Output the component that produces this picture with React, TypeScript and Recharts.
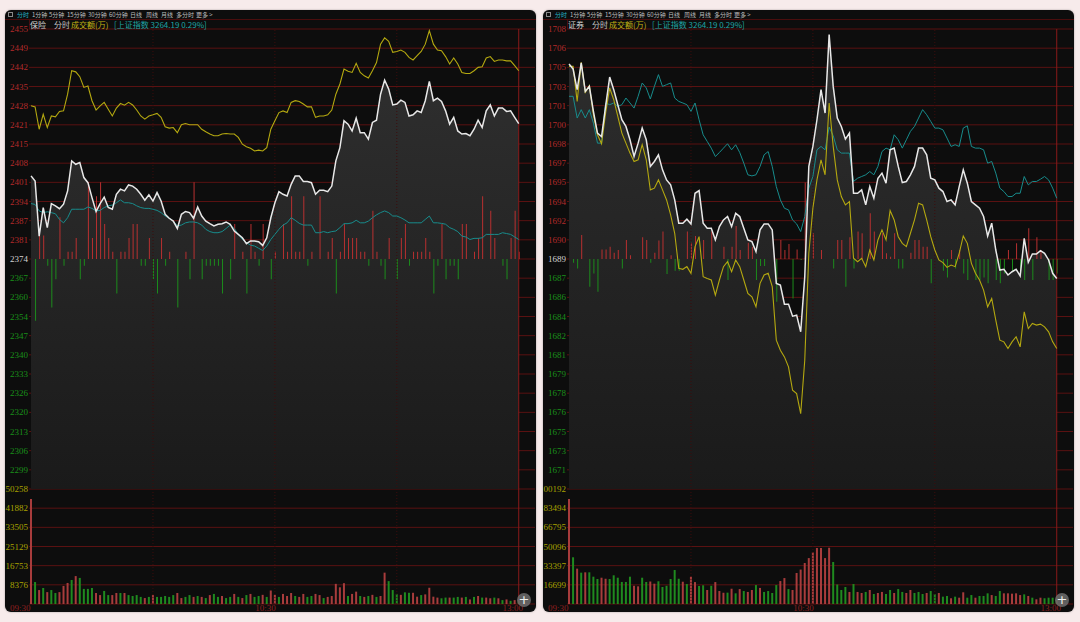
import React from 'react';
import { ComposedChart, Area, Line, Bar, Cell, XAxis, YAxis, CartesianGrid, ReferenceLine } from 'recharts';

// ---------- shared categories ----------
const minutes = Array.from({ length: 121 }, (_, i) => i); // minute index from 09:30
const timeLabels: Record<number, string> = { 0: '09:30', 60: '10:30', 120: '13:00' };
const tabLabels = ['分时', '1分钟', '5分钟', '15分钟', '30分钟', '60分钟', '日线', '周线', '月线', '多分时', '更多 >'];
const indexText = '[上证指数 3264.19 0.29%]';

// ---------- left panel : 保险 ----------
const leftName = '保险';
const leftBase = 2374.4;
const leftStep = 6.78;
const leftPriceTicks = ['2455', '2449', '2442', '2435', '2428', '2421', '2415', '2408', '2401', '2394', '2387', '2381', '2374', '2367', '2360', '2354', '2347', '2340', '2333', '2326', '2320', '2313', '2306', '2299'];
const leftVolTicks = ['50258', '41882', '33505', '25129', '16753', '8376'];
const leftPrice = [
  2403.8, 2402.0, 2382.5, 2392.6, 2385.5, 2394.0, 2393.2, 2392.2, 2393.8, 2398.5,
  2409.1, 2407.9, 2408.5, 2403.2, 2401.4, 2396.1, 2391.2, 2394.0, 2396.3, 2392.6,
  2392.0, 2397.3, 2399.1, 2398.5, 2400.6, 2400.2, 2399.1, 2397.3, 2395.2, 2397.1,
  2394.9, 2397.9, 2394.9, 2390.2, 2388.8, 2387.8, 2385.2, 2390.2, 2391.2, 2390.8,
  2388.8, 2392.8, 2389.6, 2387.8, 2386.9, 2386.1, 2386.7, 2386.9, 2387.5, 2386.7,
  2384.3, 2383.1, 2381.9, 2379.8, 2380.8, 2380.8, 2380.5, 2379.2, 2381.9, 2389.0,
  2394.3, 2398.2, 2397.3, 2396.7, 2400.8, 2403.8, 2403.8, 2401.8, 2401.8, 2401.4,
  2397.3, 2398.7, 2398.7, 2398.2, 2400.2, 2409.1, 2413.8, 2423.3, 2422.1, 2419.7,
  2424.2, 2419.1, 2419.1, 2416.8, 2422.7, 2423.5, 2432.7, 2437.7, 2434.5, 2428.9,
  2429.2, 2430.6, 2429.8, 2425.0, 2425.4, 2426.8, 2426.2, 2430.4, 2437.2, 2430.4,
  2431.3, 2430.1, 2426.8, 2422.1, 2424.5, 2419.7, 2418.6, 2418.8, 2418.0, 2420.3,
  2423.5, 2420.9, 2426.8, 2428.9, 2425.0, 2427.8, 2427.8, 2426.6, 2426.8, 2424.5,
  2422.3];
const leftIndex = [
  2428.6, 2428.2, 2420.3, 2425.6, 2420.9, 2425.0, 2424.7, 2426.6, 2426.8, 2432.7,
  2441.0, 2440.6, 2438.9, 2435.1, 2435.6, 2430.4, 2427.1, 2428.6, 2429.8, 2427.4,
  2425.0, 2427.8, 2429.4, 2428.8, 2429.8, 2428.9, 2427.1, 2425.0, 2423.9, 2425.0,
  2425.4, 2425.9, 2424.5, 2421.2, 2420.7, 2420.9, 2419.1, 2421.9, 2422.3, 2421.9,
  2421.9, 2421.9, 2420.3, 2419.4, 2418.6, 2418.0, 2418.0, 2418.6, 2418.8, 2418.6,
  2418.6, 2417.4, 2415.0, 2414.1, 2413.6, 2412.6, 2412.9, 2412.6, 2413.8, 2420.3,
  2423.3, 2426.2, 2426.8, 2426.2, 2429.8, 2430.4, 2430.1, 2429.2, 2428.2, 2428.2,
  2424.5, 2425.0, 2425.0, 2425.4, 2427.1, 2432.7, 2436.3, 2441.6, 2440.8, 2440.4,
  2443.6, 2440.4, 2439.2, 2438.4, 2441.0, 2443.9, 2450.4, 2452.6, 2451.4, 2447.5,
  2447.8, 2448.3, 2447.5, 2445.7, 2444.8, 2446.3, 2447.8, 2450.4, 2455.2, 2450.4,
  2448.3, 2448.1, 2446.0, 2443.4, 2445.5, 2443.4, 2440.4, 2440.0, 2440.0, 2441.0,
  2442.2, 2442.4, 2445.5, 2446.0, 2444.3, 2444.8, 2444.8, 2444.5, 2444.5, 2442.8,
  2441.0];
const leftAvg = [
  2394.0, 2393.7, 2391.4, 2390.8, 2391.1, 2390.8, 2390.4, 2388.4, 2387.2, 2389.0,
  2392.0, 2392.0, 2392.0, 2392.0, 2392.8, 2392.3, 2391.4, 2391.6, 2392.6, 2393.2,
  2393.5, 2394.3, 2395.3, 2394.3, 2394.3, 2394.0, 2393.2, 2392.6, 2392.3, 2392.3,
  2392.0, 2391.6, 2390.8, 2389.6, 2388.8, 2387.8, 2386.1, 2386.4, 2387.2, 2387.5,
  2387.5, 2387.2, 2386.4, 2384.9, 2384.1, 2383.7, 2383.7, 2384.1, 2385.2, 2386.4,
  2385.2, 2383.1, 2381.3, 2380.2, 2379.3, 2379.0, 2378.2, 2377.4, 2379.0, 2381.3,
  2383.1, 2384.9, 2386.4, 2387.2, 2389.0, 2388.1, 2387.0, 2386.4, 2386.4, 2386.4,
  2383.7, 2383.7, 2384.1, 2383.7, 2384.1, 2384.3, 2385.5, 2386.9, 2386.9, 2387.2,
  2388.1, 2387.2, 2387.2, 2387.8, 2389.0, 2390.0, 2390.8, 2391.4, 2390.8, 2389.6,
  2389.6, 2389.0, 2388.2, 2387.2, 2387.2, 2387.2, 2387.2, 2388.4, 2389.6, 2387.2,
  2387.2, 2387.0, 2386.7, 2385.5, 2384.9, 2384.1, 2382.5, 2382.2, 2381.3, 2381.7,
  2381.7, 2381.9, 2383.1, 2383.1, 2383.1, 2383.1, 2383.7, 2383.4, 2383.1, 2382.2,
  2381.3];
const leftDiff = [
  0, -322, 123, 123, -35, -253, -105, 218, -35, 38,
  38, 110, -105, -35, 400, 110, 328, 400, 183, 110,
  38, -180, 38, 38, 110, 183, 183, -35, -35, 110,
  -105, -180, 110, -35, 38, 0, -253, 0, 38, -105,
  400, 0, -105, -35, -35, -35, -35, -180, 0, -105,
  183, 0, 38, -180, 183, 38, -35, 183, 0, -105,
  38, 0, 183, 38, 328, 38, 38, 328, -35, 38,
  0, 328, 0, 38, 110, -180, 38, 183, 110, 110,
  110, 38, 38, -35, 252, 38, -35, -105, 110, 0,
  -105, 110, 183, -35, 38, 38, 38, 110, 38, -180,
  -35, 183, -105, -35, -35, -105, 183, 183, 0, 38,
  110, 328, 0, 252, 110, 0, -35, -105, 110, 252,
  38];
const leftVol = [
  45900, 9600, 6100, 7000, 5200, 6100, 4800, 5200, 7900, 9200,
  10500, 12200, 11400, 6600, 6600, 7000, 4800, 3900, 5700, 3900,
  3900, 4800, 4800, 4800, 3900, 3500, 3900, 3100, 2600, 3100,
  3900, 3100, 3100, 3500, 3100, 3900, 4800, 2600, 3100, 3900,
  3100, 3500, 3100, 2600, 3900, 4400, 3100, 3500, 2600, 3100,
  4400, 3100, 2600, 3900, 4400, 3100, 3500, 4000, 3100, 5900,
  4000, 3100, 4400, 3500, 4800, 3500, 3100, 4400, 3100, 3500,
  4400, 3900, 2600, 3100, 3500, 8800, 7300, 9100, 3500, 4400,
  5400, 3500, 3100, 3500, 4000, 3100, 3500, 13700, 10000, 6100,
  4400, 4000, 5100, 4900, 4900, 3200, 3900, 4200, 7100, 3200,
  2800, 2500, 2800, 2800, 2800, 3100, 2800, 3100, 2000, 3100,
  3500, 2800, 2800, 2500, 2800, 2500, 1700, 2000, 1400, 1700,
  1500];
const leftVolUp = 'rgrgrggrrr' + 'grggggrrgg' + 'rrgrggggrg' + 'rgggggrrgg' + 'rgrgrggrgg' + 'rgrgrggrgr' +
  'rgrrrgrrgg' + 'rrgrrrrrgr' + 'rgrgrgrrgg' + 'grggrrgrrr' + 'rggrggrgrg' + 'rgrrgrgrgr' + 'g';

// ---------- right panel : 证券 ----------
const rightName = '证券';
const rightBase = 1689.3;
const rightStep = 1.58;
const rightPriceTicks = ['1708', '1706', '1705', '1703', '1701', '1700', '1698', '1697', '1695', '1694', '1692', '1690', '1689', '1687', '1686', '1684', '1682', '1681', '1679', '1678', '1676', '1675', '1673', '1671'];
const rightVolTicks = ['100192', '83494', '66795', '50096', '33397', '16699'];
const rightPrice = [
  1705.38, 1704.96, 1703.26, 1705.46, 1703.12, 1703.53, 1701.47, 1699.68, 1699.40, 1701.88,
  1704.30, 1703.26, 1702.02, 1700.78, 1700.23, 1699.13, 1697.75, 1698.85, 1700.09, 1699.13,
  1696.93, 1697.34, 1697.89, 1696.65, 1695.82, 1695.41, 1694.17, 1692.25, 1692.25, 1692.58,
  1692.19, 1694.72, 1694.94, 1692.25, 1691.83, 1691.83, 1690.87, 1691.97, 1692.52, 1692.80,
  1691.97, 1693.07, 1692.80, 1691.83, 1690.87, 1690.73, 1689.91, 1691.70, 1692.19, 1692.19,
  1691.70, 1687.29, 1687.15, 1685.58, 1685.58, 1684.59, 1684.67, 1683.30, 1687.84, 1696.93,
  1698.58, 1700.78, 1703.26, 1701.33, 1707.80, 1703.53, 1700.92, 1700.23, 1699.18, 1699.68,
  1694.72, 1694.72, 1695.00, 1693.76, 1695.27, 1694.31, 1695.96, 1696.38, 1695.55, 1698.30,
  1698.44, 1696.93, 1695.60, 1695.69, 1696.24, 1696.93, 1698.44, 1698.44, 1697.89, 1695.96,
  1695.82, 1695.14, 1694.86, 1694.04, 1694.17, 1693.76, 1695.27, 1696.65, 1695.55, 1694.04,
  1693.76, 1693.48, 1692.80, 1691.20, 1692.25, 1690.04, 1688.39, 1688.45, 1687.98, 1688.25,
  1688.45, 1687.90, 1691.01, 1689.02, 1689.71, 1689.71, 1689.99, 1689.77, 1689.22, 1688.12,
  1687.70];
const rightIndex = [
  1705.18, 1705.18, 1702.29, 1705.52, 1703.04, 1703.59, 1701.19, 1699.54, 1698.80, 1701.33,
  1703.40, 1702.43, 1701.06, 1699.68, 1698.85, 1698.03, 1697.34, 1697.48, 1698.72, 1697.48,
  1695.00, 1695.14, 1695.82, 1695.00, 1694.17, 1692.93, 1691.42, 1688.53, 1688.45, 1688.67,
  1688.12, 1690.32, 1691.14, 1687.84, 1687.70, 1687.57, 1686.33, 1687.57, 1688.67, 1689.08,
  1688.25, 1689.22, 1688.67, 1687.57, 1686.46, 1686.19, 1685.36, 1687.29, 1687.98, 1688.12,
  1687.02, 1682.61, 1681.78, 1681.23, 1680.41, 1678.48, 1678.21, 1676.55, 1680.96, 1689.77,
  1693.48, 1695.82, 1697.48, 1696.24, 1702.16, 1698.58, 1695.82, 1694.45, 1693.76, 1694.04,
  1689.36, 1689.08, 1689.36, 1688.67, 1690.04, 1689.22, 1690.87, 1691.70, 1690.87, 1693.29,
  1692.52, 1691.14, 1690.59, 1690.32, 1691.42, 1692.52, 1693.90, 1693.76, 1692.52, 1691.14,
  1690.04, 1689.22, 1689.00, 1688.61, 1688.80, 1688.67, 1689.77, 1691.20, 1690.59, 1688.94,
  1688.12, 1687.57, 1686.74, 1685.36, 1686.05, 1684.26, 1682.61, 1682.47, 1681.92, 1682.47,
  1682.89, 1682.06, 1684.95, 1683.57, 1683.99, 1683.85, 1683.93, 1683.71, 1683.30, 1682.47,
  1681.92];
const rightAvg = [
  1702.71, 1702.71, 1700.92, 1701.61, 1700.92, 1701.61, 1700.50, 1698.85, 1698.85, 1702.16,
  1702.02, 1702.16, 1701.88, 1702.02, 1702.57, 1702.16, 1701.74, 1702.71, 1703.81, 1703.40,
  1702.49, 1703.53, 1704.50, 1703.53, 1703.67, 1703.81, 1702.57, 1702.29, 1702.16, 1702.02,
  1701.47, 1702.16, 1700.78, 1699.54, 1698.99, 1698.44, 1697.75, 1698.08, 1698.44, 1698.80,
  1698.30, 1698.72, 1698.08, 1697.20, 1696.24, 1696.15, 1696.24, 1696.93, 1697.89, 1698.16,
  1696.93, 1695.27, 1694.17, 1693.48, 1693.35, 1692.52, 1692.19, 1691.56, 1692.80, 1695.14,
  1696.10, 1698.30, 1698.58, 1698.30, 1700.17, 1699.46, 1698.30, 1698.03, 1698.03, 1698.03,
  1695.69, 1695.96, 1696.10, 1696.24, 1696.51, 1696.24, 1696.93, 1698.16, 1698.44, 1698.30,
  1699.54, 1699.13, 1698.44, 1699.13, 1699.82, 1700.23, 1700.92, 1701.61, 1701.19, 1700.64,
  1700.09, 1700.09, 1699.95, 1699.27, 1698.58, 1698.72, 1698.58, 1700.09, 1700.28, 1698.58,
  1698.44, 1698.44, 1698.30, 1697.20, 1697.34, 1696.38, 1695.14, 1694.86, 1694.45, 1694.45,
  1694.72, 1694.72, 1696.10, 1695.41, 1695.69, 1695.69, 1695.88, 1696.10, 1695.82, 1695.14,
  1694.31];
const rightDiff = [
  0, -19, -49, 125, 0, -145, -75, -171, 50, 50,
  64, 33, 47, -49, 99, 19, 0, 0, 113, 99,
  -19, 33, 96, 143, -78, 19, -61, -61, 0, 143,
  85, 120, 0, 99, 0, 143, 0, 0, 64, -110,
  64, 172, 47, 0, 85, 64, -110, -37, -37, 0,
  0, -223, 99, 47, 78, -206, 50, -5, 399, 0,
  134, 0, 47, 0, 0, -49, 99, 99, -145, 113,
  -49, 143, 134, 0, 239, 143, 0, 134, 30, 12,
  134, -49, -49, 0, 33, 99, 99, 64, 64, -127,
  0, 0, -61, -96, 47, -49, 47, -75, -110, 0,
  -110, -110, -96, -127, 0, -110, -127, -75, 47, -61,
  82, -75, -110, 160, -110, 113, 47, 0, -110, -110,
  -75];
const rightVol = [
  91500, 40700, 30800, 27300, 27600, 27600, 23800, 21800, 22900, 22000,
  21800, 25000, 22900, 19200, 19200, 23800, 15900, 15400, 22900, 19200,
  19600, 17700, 19800, 14800, 15900, 21800, 29600, 22000, 19400, 17400,
  23800, 19100, 15700, 16300, 12200, 15900, 19100, 11300, 9800, 9900,
  13300, 9300, 13000, 11300, 10500, 12200, 16500, 14000, 10500, 11300,
  9600, 16500, 20000, 22600, 13000, 12200, 27000, 30000, 35700, 40000,
  45000, 48800, 48800, 40000, 49000, 36600, 17000, 12200, 14800, 10500,
  17400, 10500, 9600, 10500, 12200, 8700, 9600, 10500, 8700, 12200,
  9600, 13000, 10500, 9600, 12200, 9600, 10500, 8700, 9600, 11300,
  8700, 9600, 6400, 7000, 5000, 6400, 5500, 10200, 5500, 7800,
  5500, 7000, 7000, 9300, 7800, 7000, 11300, 9300, 9300, 9000,
  9300, 7800, 8400, 7000, 5500, 4100, 5500, 5000, 5500, 5500,
  5000];
const rightVolUp = 'rgrgrgggrr' + 'ggggggrrgg' + 'rrggggggrg' + 'rrggrgrrrg' + 'rgrgrrgrgg' + 'ggrrgrrrrr' +
  'rrrrrggggr' + 'grrgrgrrgg' + 'rggrrgggrg' + 'grggrgrrgg' + 'rgggrggrrr' + 'rrgrgrrggg' + 'g';

// ---------- styling ----------
const C = {
  page: '#f7ebeb',
  card: '#0d0d0d',
  grid: '#5a1111',
  vgrid: '#3d0d0d',
  closeLine: '#8a1a1a',
  red: '#b83030',
  green: '#1c8c1c',
  volRed: '#a83c3c',
  volGreen: '#1f8a1f',
  white: '#e8e8e8',
  yellow: '#b4a810',
  cyan: '#188c8c',
  lblRed: '#b42a2a',
  lblGreen: '#1a8f1a',
  lblMid: '#d2d2d2',
  lblVol: '#a9a200',
  time: '#8e1f1f',
};

const TOP_PAD = 6;
const PLOT_H = 575;
const X_AXIS_H = 8;
const CHART_W = 530;
const CHART_H = TOP_PAD + PLOT_H + X_AXIS_H;
const AXIS_W = 24;

type PanelCfg = {
  id: string;
  name: string;
  base: number;
  step: number;
  priceTicks: string[];
  volTicks: string[];
  price: number[];
  index: number[];
  avg: number[];
  diff: number[];
  vol: number[];
  volUp: string;
};

const panels: PanelCfg[] = [
  { id: 'L', name: leftName, base: leftBase, step: leftStep, priceTicks: leftPriceTicks, volTicks: leftVolTicks, price: leftPrice, index: leftIndex, avg: leftAvg, diff: leftDiff, vol: leftVol, volUp: leftVolUp },
  { id: 'R', name: rightName, base: rightBase, step: rightStep, priceTicks: rightPriceTicks, volTicks: rightVolTicks, price: rightPrice, index: rightIndex, avg: rightAvg, diff: rightDiff, vol: rightVol, volUp: rightVolUp },
];

function Panel({ cfg, left }: { cfg: PanelCfg; left: number }) {
  const rows = minutes.map((m, i) => ({
    m,
    price: cfg.price[i],
    idx: cfg.index[i],
    avg: cfg.avg[i],
    diff: cfg.diff[i],
    vol: cfg.vol[i],
  }));
  const lo = cfg.base - 18 * cfg.step;
  const hi = cfg.base + 12 * cfg.step;
  const ticks = Array.from({ length: 31 }, (_, i) => cfg.base + (i - 18) * cfg.step);
  const priceBottom = cfg.base - 12 * cfg.step;
  const volTop = Number(cfg.volTicks[0]) * 5;

  const renderYTick = (p: any) => {
    const k = Math.round((p.payload.value - cfg.base) / cfg.step);
    let label = '';
    let color = C.lblMid;
    if (k >= -11) {
      label = cfg.priceTicks[12 - k];
      color = k > 0 ? C.lblRed : k < 0 ? C.lblGreen : C.lblMid;
    } else if (k <= -12 && k >= -17) {
      label = cfg.volTicks[-12 - k];
      color = C.lblVol;
    }
    if (!label) return <g />;
    return (
      <text x={AXIS_W - 1} y={p.y} dy={3} textAnchor="end" fill={color} fontSize={9} fontFamily="Liberation Serif">
        {label}
      </text>
    );
  };

  const renderXTick = (p: any) => {
    const v = p.payload.value;
    const label = timeLabels[v];
    if (!label) return <g />;
    const anchor = v === 0 ? 'start' : v === 60 ? 'end' : 'middle';
    const dx = v === 0 ? -21 : v === 60 ? 1 : -6;
    return (
      <text x={p.x + dx} y={TOP_PAD + PLOT_H} dy={7} textAnchor={anchor} fill={C.time} fontSize={9} fontFamily="Liberation Serif">
        {label}
      </text>
    );
  };

  const gid = 'fill' + cfg.id;

  return (
    <div
      style={{
        position: 'absolute',
        left,
        top: 10,
        width: 531,
        height: 602,
        background: C.card,
        borderRadius: 6,
        overflow: 'hidden',
        boxShadow: '0 0 2px rgba(0,0,0,0.35)',
      }}
    >
      {/* tab row */}
      <div style={{ position: 'absolute', left: 3, top: 2, width: 5, height: 5, border: '1px solid #888', boxSizing: 'border-box' }} />
      {tabLabels.map((t, i) => (
        <div
          key={t}
          style={{
            position: 'absolute',
            left: [12, 27, 44, 62, 83, 104, 125, 141, 156, 171, 191][i],
            top: 0,
            fontSize: 6,
            lineHeight: '9px',
            color: i === 0 ? '#22b4c4' : '#bdbdbd',
            fontFamily: '"Noto Sans CJK SC", sans-serif',
            whiteSpace: 'nowrap',
          }}
        >
          {t}
        </div>
      ))}
      <div style={{ position: 'absolute', left: 0, top: 9, width: '100%', height: 1, background: '#4a0d0d' }} />
      <div style={{ position: 'absolute', left: AXIS_W, top: 9, width: 1, height: 10, background: '#4a0d0d' }} />

      {/* chart */}
      <div style={{ position: 'absolute', left: 0, top: 19 - TOP_PAD }}>
        <ComposedChart width={CHART_W} height={CHART_H} data={rows} margin={{ top: TOP_PAD, right: 0, bottom: 0, left: 0 }}>
          <defs>
            <linearGradient id={gid} x1="0" y1="0" x2="0" y2="1">
              <stop offset="0%" stopColor="#2e2e2e" />
              <stop offset="100%" stopColor="#1a1a1a" />
            </linearGradient>
          </defs>
          <XAxis
            xAxisId="x"
            dataKey="m"
            type="number"
            domain={[-0.5, 124]}
            ticks={[0, 60, 120]}
            interval={0}
            height={X_AXIS_H}
            axisLine={false}
            tickLine={false}
            tickSize={0}
            tickMargin={0}
            tick={renderXTick}
          />
          <XAxis xAxisId="x2" dataKey="m" type="number" domain={[-0.5, 124]} hide />
          <YAxis
            yAxisId="p"
            type="number"
            domain={[lo, hi]}
            ticks={ticks}
            interval={0}
            width={AXIS_W}
            allowDataOverflow
            axisLine={{ stroke: '#5a1111' }}
            tickLine={false}
            tickSize={0}
            tickMargin={1}
            tick={renderYTick}
          />
          <YAxis yAxisId="v" type="number" domain={[0, volTop]} hide allowDataOverflow />
          <YAxis yAxisId="d" type="number" domain={[-1800, 1200]} hide allowDataOverflow />
          <CartesianGrid xAxisId="x" yAxisId="p" vertical={false} stroke={C.grid} strokeWidth={1} />
          {[30, 60, 90].map((x) => (
            <ReferenceLine key={x} xAxisId="x" yAxisId="p" x={x} stroke={C.vgrid} strokeDasharray="1 2" />
          ))}
          <Area
            xAxisId="x"
            yAxisId="p"
            dataKey="price"
            type="linear"
            baseValue={priceBottom}
            stroke="none"
            fill={`url(#${gid})`}
            fillOpacity={1}
            isAnimationActive={false}
          />
          <Bar xAxisId="x2" yAxisId="d" dataKey="diff" barSize={1} isAnimationActive={false}>
            {rows.map((r, i) => (
              <Cell key={i} fill={r.diff >= 0 ? C.red : C.green} />
            ))}
          </Bar>
          <Bar xAxisId="x" yAxisId="v" dataKey="vol" barSize={2} isAnimationActive={false}>
            {rows.map((r, i) => (
              <Cell key={i} fill={cfg.volUp[i] === 'r' ? C.volRed : C.volGreen} />
            ))}
          </Bar>
          <ReferenceLine xAxisId="x" yAxisId="p" x={120} stroke={C.closeLine} strokeWidth={1} />
          <Line xAxisId="x" yAxisId="p" dataKey="avg" type="linear" stroke={C.cyan} strokeWidth={1} dot={false} isAnimationActive={false} />
          <Line xAxisId="x" yAxisId="p" dataKey="idx" type="linear" stroke={C.yellow} strokeWidth={1.1} dot={false} isAnimationActive={false} />
          <Line xAxisId="x" yAxisId="p" dataKey="price" type="linear" stroke={C.white} strokeWidth={1.5} dot={false} isAnimationActive={false} />
        </ComposedChart>
      </div>

      {/* header text row */}
      <div
        style={{
          position: 'absolute',
          left: 0,
          top: 10,
          width: '100%',
          height: 10,
          fontSize: 8,
          lineHeight: '10px',
          fontFamily: '"Noto Sans CJK SC", sans-serif',
          whiteSpace: 'nowrap',
        }}
      >
        <span style={{ position: 'absolute', left: 25, color: '#d4d4d4' }}>{cfg.name}</span>
        <span style={{ position: 'absolute', left: 49, color: '#c4c4c4' }}>分时</span>
        <span style={{ position: 'absolute', left: 66, color: '#c2b414' }}>成交额(万)</span>
        <span style={{ position: 'absolute', left: 109, color: '#1fa4a4' }}>{indexText}</span>
      </div>

      {/* zoom button */}
      <div
        style={{
          position: 'absolute',
          left: 512,
          top: 583,
          width: 14,
          height: 14,
          borderRadius: 7,
          background: 'rgba(110,110,110,0.85)',
          color: '#eee',
          fontSize: 13,
          lineHeight: '14px',
          textAlign: 'center',
          fontFamily: 'DejaVu Sans, sans-serif',
        }}
      >
        +
      </div>
    </div>
  );
}

export default function App() {
  return (
    <div style={{ position: 'absolute', left: 0, top: 0, width: 1080, height: 622, background: C.page, overflow: 'hidden' }}>
      <Panel cfg={panels[0]} left={5} />
      <Panel cfg={panels[1]} left={543} />
    </div>
  );
}
